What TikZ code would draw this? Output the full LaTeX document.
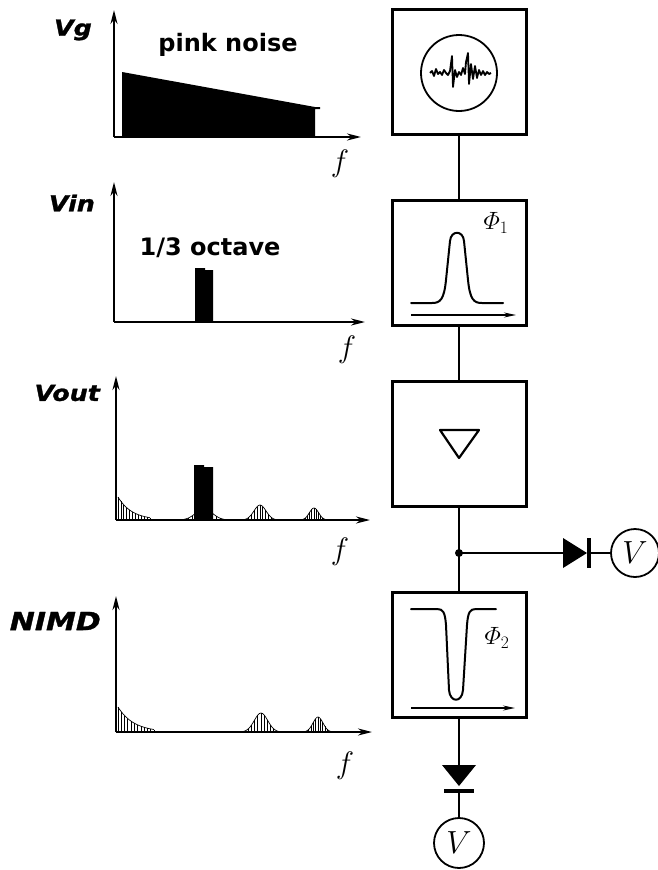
\RequirePackage{fix-cm}
\documentclass[tikz,border=0pt]{standalone}
\usepackage{fontspec}
\usepackage{amsmath}
\newfontfamily\dvs{DejaVu Sans}
\newfontface\heavy{DejaVu Sans Bold Oblique}[FakeBold=1.2]
\usetikzlibrary{arrows.meta}
\newcommand\hbump[4]{%
  \foreach \i in {-6,...,6}{%
    \pgfmathsetmacro\xx{#1+\i*#2/6}%
    \pgfmathsetmacro\yy{#4-#3*exp(-4*(\i)*(\i)/36)}%
    \draw[hatch] (\xx,#4) -- (\xx,\yy);}%
  \draw[hatch] plot[domain=-1:1,samples=25] ({#1+\x*#2},{#4-#3*exp(-4*(\x)*(\x))});%
}
\newcommand\hdecay[4]{%
  \foreach \i in {0,...,11}{%
    \pgfmathsetmacro\xx{#1+\i*#2/11}%
    \pgfmathsetmacro\yy{#4-#3*exp(-2.3*\i/11)}%
    \draw[hatch] (\xx,#4) -- (\xx,\yy);}%
  \draw[hatch] plot[domain=0:1,samples=20] ({#1+\x*#2},{#4-#3*exp(-2.3*\x)});%
}
\begin{document}
\begin{tikzpicture}[x=1pt,y=-1pt,
  blk/.style={draw, line width=3pt, minimum width=134pt, minimum height=125pt, inner sep=0pt},
  wire/.style={line width=2.6pt},
  axis/.style={line width=2pt, -{Stealth[length=14pt,width=7pt]}},
  hatch/.style={line width=0.7pt},
  slbl/.style={font=\heavy\fontsize{22}{22}\selectfont, anchor=east, inner sep=0pt},
  ttl/.style={font=\dvs\bfseries\fontsize{24}{24}\selectfont, inner sep=0pt},
  flbl/.style={font=\fontsize{31}{31}\selectfont, inner sep=0pt},
  phil/.style={font=\fontsize{25}{25}\selectfont, inner sep=0pt},
  vc/.style={draw, circle, line width=1.8pt, minimum size=48pt, inner sep=0pt, font=\fontsize{32}{32}\selectfont},
  sarr/.style={line width=1.4pt, -{Stealth[length=12pt,width=5pt]}},
  curve/.style={line width=2pt, line cap=round, line join=round}
]
\useasboundingbox (0,0) rectangle (658,870);

% ---------- spectra ----------
% Vg
\coordinate (o1) at (114,137);
\fill (122,137) -- (122,72) -- (315,107) -- (320,107) -- (320,109) -- (315,109) -- (315,137) -- cycle;
\draw[axis] (o1) -- (114,10);
\draw[axis] (o1) -- (361,137);
\node[slbl] (lvg) at (92,30) {\scalebox{1.15}[1]{Vg}};
\node[ttl] (tpink) at (228,45) {pink noise};
\node[flbl] (f1l) at (340,164) {$f$};

% Vin
\coordinate (o2) at (114,322);
\fill (195,322) -- (195,268) -- (205,268) -- (205,270) -- (213,270) -- (213,322) -- cycle;
\draw[axis] (o2) -- (114,182);
\draw[axis] (o2) -- (365,322);
\node[slbl] (lvin) at (95,203) {\scalebox{1.15}[1]{Vin}};
\node[ttl] (toct) at (210,248) {1/3 octave};
\node[flbl] (f2l) at (347,350) {$f$};

% Vout
\coordinate (o3) at (116,520);
\hdecay{118}{32}{23}{520}
\hbump{204}{24}{11}{520}
\hbump{260}{17}{15}{520}
\hbump{314}{13}{12}{520}
\fill (194,520) -- (194,465) -- (204,465) -- (204,467) -- (213,467) -- (213,520) -- cycle;
\draw[axis] (o3) -- (116,376);
\draw[axis] (o3) -- (370,520);
\node[slbl] (lvout) at (100,393) {\scalebox{1.15}[1]{Vout}};
\node[flbl] (f3l) at (340,552) {$f$};

% NIMD
\coordinate (o4) at (116,732);
\hdecay{118}{36}{25}{732}
\hbump{261}{19}{19}{732}
\hbump{318}{14}{15}{732}
\draw[axis] (o4) -- (116,596);
\draw[axis] (o4) -- (372,732);
\node[slbl, font=\heavy\fontsize{25}{25}\selectfont] (lnimd) at (101,621) {\scalebox{1.2}[1]{NIMD}};
\node[flbl] (f4l) at (345,766) {$f$};

% ---------- block chain ----------
\node[blk] (gen) at (459,72) {};
\node[blk] (fa) at (459,263) {};
\node[blk] (amp) at (459,443.5) {};
\node[blk] (fb) at (459,654.5) {};

\draw[wire] (gen.south) -- (fa.north);
\draw[wire] (fa.south) -- (amp.north);
\draw[wire] (amp.south) -- (fb.north);

% generator symbol
\node[draw, circle, line width=1.8pt, minimum size=76pt, inner sep=0pt] (osc) at (459,73) {};
\draw[line width=1.8pt, line join=round]
  (430,73) -- (432,71) -- (434,76) -- (436,69) -- (438,74) -- (440,72) -- (442,75)
  -- (444,70) -- (446,73) -- (448,75) -- (450,71) -- (452,56) -- (453,87) -- (455,70)
  -- (457,77) -- (459,72) -- (461,75) -- (463,68) -- (465,74) -- (466,62) -- (468,53)
  -- (469,84) -- (471,64) -- (473,79) -- (475,66) -- (477,78) -- (479,70) -- (481,75)
  -- (483,71) -- (485,75) -- (487,72) -- (489,74) -- (491,73);

% filter 1
\node[phil] (phi1) at (496,223) {$\varPhi_1$};
\draw[curve] (411,303) -- (432,303) .. controls (440,303) and (444,300) .. (446,280)
  -- (450,241) .. controls (451,230) and (463,230) .. (464,241)
  -- (468,280) .. controls (470,300) and (474,303) .. (482,303) -- (503,303);
\draw[sarr] (411,315) -- (516,315);

% amplifier
\draw[line width=2.2pt, line join=round] (440,430) -- (479,430) -- (459,458) -- cycle;

% junction and side meter
\coordinate (j) at (459,553);
\fill (j) circle (4);
\coordinate (da) at (563,553);
\coordinate (db) at (589,553);
\draw[wire] (j) -- (da);
\fill (563,538) -- (563,568) -- (587,553) -- cycle;
\draw[line width=3.5pt] (589,538) -- (589,568);
\node[vc] (v1) at (635,553) {$V$};
\draw[wire] (db) -- (v1.west);

% filter 2
\node[phil] (phi2) at (497,638) {$\varPhi_2$};
\draw[curve] (411,609) -- (437,609) .. controls (443,609) and (445,612) .. (446,625)
  -- (449,690) .. controls (450,703) and (462,703) .. (463,690)
  -- (467,625) .. controls (468,612) and (470,609) .. (476,609) -- (496,609);
\draw[sarr] (411,708) -- (515,708);

% output meter
\coordinate (dc) at (459,765);
\coordinate (dd) at (459,791);
\draw[wire] (fb.south) -- (dc);
\fill (442,765) -- (476,765) -- (459,786) -- cycle;
\draw[line width=3.5pt] (444,791) -- (474,791);
\node[vc, minimum size=50pt] (v2) at (459,843) {$V$};
\draw[wire] (dd) -- (v2.north);
\end{tikzpicture}
\end{document}
